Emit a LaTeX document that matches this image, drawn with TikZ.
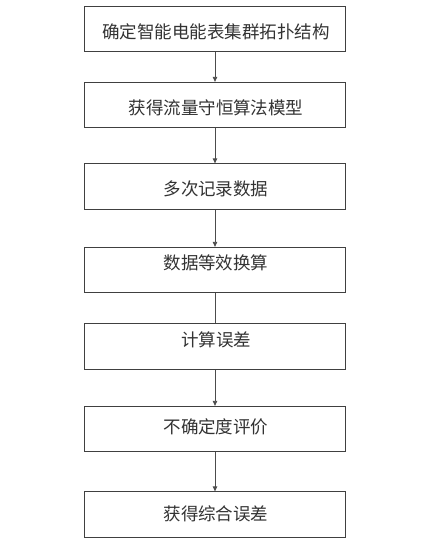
\documentclass[tikz,border=0pt]{standalone}
\usepackage{fontspec}
\newfontfamily\cjk{Noto Sans CJK SC}
\usetikzlibrary{arrows.meta}
\begin{document}
\begin{tikzpicture}[x=1pt,y=-1pt,
  boxst/.style={draw=black!75,line width=0.8pt,minimum width=261pt,minimum height=45.5pt,inner sep=0pt},
  txt/.style={font=\cjk\fontsize{17.5}{20}\selectfont,text=black!80,inner sep=0pt},
  arr/.style={draw=black!70,line width=0.8pt,-{Triangle[length=5pt,width=4.5pt]}},
  ln/.style={draw=black!70,line width=0.8pt}]
\useasboundingbox (0,0) rectangle (430,542);
\fill[white] (0,0) rectangle (430,542);
\node[boxst] (b1) at (215,29) {};
\node[boxst] (b2) at (215,105) {};
\node[boxst] (b3) at (215,186.5) {};
\node[boxst] (b4) at (215,270) {};
\node[boxst] (b5) at (215,346.5) {};
\node[boxst] (b6) at (215,429) {};
\node[boxst] (b7) at (215,514.5) {};
\node[txt] (t1) at (216,32) {确定智能电能表集群拓扑结构};
\node[txt] (t2) at (216,108) {获得流量守恒算法模型};
\node[txt] (t3) at (216,189) {多次记录数据};
\node[txt] (t4) at (216,263) {数据等效换算};
\node[txt] (t5) at (216,340) {计算误差};
\node[txt] (t6) at (216,427) {不确定度评价};
\node[txt] (t7) at (216,514) {获得综合误差};
\draw[arr] (b1) -- (b2);
\draw[arr] (b2) -- (b3);
\draw[arr] (b3) -- (b4);
\draw[ln] (b4) -- (b5);
\draw[arr] (b5) -- (b6);
\draw[arr] (b6) -- (b7);
\end{tikzpicture}
\end{document}
